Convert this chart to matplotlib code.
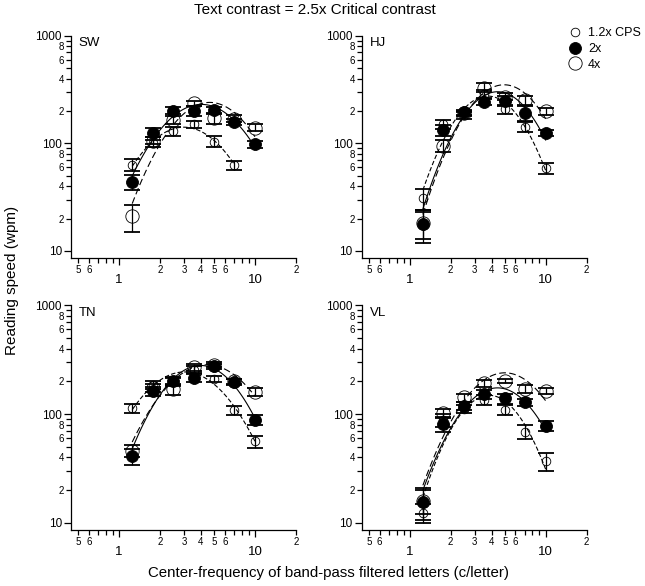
import numpy as np
import matplotlib
matplotlib.use('Agg')
import matplotlib.pyplot as plt
from matplotlib.ticker import FixedLocator, FuncFormatter
from matplotlib.lines import Line2D

plt.rcParams['font.family'] = ['Liberation Sans', 'DejaVu Sans']

# ---------------------------------------------------------------------------
# data read off the figure (reading speed in wpm, nan = not measured)
# ---------------------------------------------------------------------------

freq = [1.25, 1.77, 2.5, 3.54, 5.0, 7.07, 10.0]
subjects = ['SW', 'HJ', 'TN', 'VL']
series = ['1.2x CPS', '2x', '4x']

sw_12 = [63, 100, 130, 150, 104, 63, np.nan]
sw_2  = [44, 126, 201, 201, 203, 159, 98]
sw_4  = [21, 106, 165, 235, 171, 170, 140]
sw_12_err = [8, 8, 12, 10, 12, 6, np.nan]
sw_2_err  = [7, 12, 15, 20, 15, 10, 8]
sw_4_err  = [6, 8, 15, 15, 20, 12, 10]

hj_12 = [31, 150, 182, 290, 208, 142, 59]
hj_2  = [17.8, 133, 194, 244, 249, 193, 126]
hj_4  = [18, 95, 190, 330, 271, 253, 200]
hj_12_err = [7, 15, 12, 25, 20, 15, 7]
hj_2_err  = [6, 15, 12, 15, 25, 30, 8]
hj_4_err  = [5, 12, 10, 30, 20, 25, 15]

tn_12 = [113, 185, 200, 255, 210, 109, 56]
tn_2  = [41, 163, 201, 216, 276, 198, 89]
tn_4  = [46, 175, 170, 268, 285, 200, 160]
tn_12_err = [10, 15, 15, 20, 15, 10, 7]
tn_2_err  = [7, 15, 20, 20, 15, 12, 10]
tn_4_err  = [6, 15, 20, 20, 15, 12, 12]

vl_12 = [12.4, 88, 112, 136, 110, 69, 37]
vl_2  = [15.7, 81, 118, 152, 139, 128, 78]
vl_4  = [16, 102, 142, 191, 202, 170, 163]
vl_12_err = [2.5, 12, 10, 15, 12, 10, 7]
vl_2_err  = [5, 12, 10, 15, 15, 10, 8]
vl_4_err  = [4, 10, 12, 15, 10, 15, 10]

speeds = {'SW': [sw_12, sw_2, sw_4], 'HJ': [hj_12, hj_2, hj_4],
          'TN': [tn_12, tn_2, tn_4], 'VL': [vl_12, vl_2, vl_4]}
errors = {'SW': [sw_12_err, sw_2_err, sw_4_err], 'HJ': [hj_12_err, hj_2_err, hj_4_err],
          'TN': [tn_12_err, tn_2_err, tn_4_err], 'VL': [vl_12_err, vl_2_err, vl_4_err]}

# ---------------------------------------------------------------------------
# styles
# ---------------------------------------------------------------------------

mstyle = [dict(marker='o', ms=6.2, mfc='none', mec='black', mew=0.6),
          dict(marker='o', ms=8.6, mfc='black', mec='black', mew=0.6),
          dict(marker='o', ms=9.6, mfc='none', mec='black', mew=0.6)]
lstyle = [(0, (4, 2)), '-', (0, (6, 3))]
zord = [3, 5, 4]

x_minor = [0.5, 0.6, 0.7, 0.8, 0.9, 2, 3, 4, 5, 6, 7, 8, 9, 20]
x_minor_lab = {0.5: '5', 0.6: '6', 2: '2', 3: '3', 4: '4', 5: '5', 6: '6', 20: '2'}
y_minor = [20, 30, 40, 50, 60, 70, 80, 90, 200, 300, 400, 500, 600, 700, 800, 900]
y_minor_lab = {20: '2', 40: '4', 60: '6', 80: '8', 200: '2', 400: '4', 600: '6', 800: '8'}


def lab_fmt(d):
    def f(v, pos):
        for k, s in d.items():
            if abs(v - k) < 1e-6 * k:
                return s
        return ''
    return FuncFormatter(f)


W, H = 645, 586
fig = plt.figure(figsize=(W / 100, H / 100), dpi=100)

left_px = [71, 361.7]
top_rows = [(35.5, 258), (305, 530)]
ax_w = 225

for i, subj in enumerate(subjects):
    r, c = divmod(i, 2)
    t, b = top_rows[r]
    ax = fig.add_axes([left_px[c] / W, 1 - b / H, ax_w / W, (b - t) / H])
    ax.set_xscale('log')
    ax.set_yscale('log')

    x = np.array(freq)
    for k in range(3):
        y = np.array(speeds[subj][k], dtype=float)
        e = np.array(errors[subj][k], dtype=float)
        ok = np.isfinite(y)
        # log-parabola fit of the data
        p = np.polyfit(np.log10(x[ok]), np.log10(y[ok]), 2)
        xf = np.logspace(np.log10(x[ok][0]), np.log10(x[ok][-1]), 120)
        ax.plot(xf, 10 ** np.polyval(p, np.log10(xf)), color='black',
                lw=0.8, ls=lstyle[k], zorder=2)
        ax.errorbar(x[ok], y[ok], yerr=e[ok], fmt='none', ecolor='black',
                    elinewidth=0.9, capsize=5.8, capthick=1.3, zorder=zord[k])
        ax.plot(x[ok], y[ok], ls='none', zorder=zord[k] + 0.5, **mstyle[k])

    ax.set_xlim(0.443, 20.05)
    ax.set_ylim(8.6, 1005)
    ax.spines['top'].set_visible(False)
    ax.spines['right'].set_visible(False)
    for s in ['left', 'bottom']:
        ax.spines[s].set_linewidth(0.9)

    ax.xaxis.set_major_locator(FixedLocator([1, 10]))
    ax.xaxis.set_minor_locator(FixedLocator(x_minor))
    ax.xaxis.set_major_formatter(FuncFormatter(lambda v, p: '%g' % v))
    ax.xaxis.set_minor_formatter(lab_fmt(x_minor_lab))
    ax.yaxis.set_major_locator(FixedLocator([10, 100, 1000]))
    ax.yaxis.set_minor_locator(FixedLocator(y_minor))
    ax.yaxis.set_major_formatter(FuncFormatter(lambda v, p: '%g' % v))
    ax.yaxis.set_minor_formatter(lab_fmt(y_minor_lab))

    ax.tick_params(axis='x', which='major', length=5, width=0.9, pad=6.5, labelsize=9.5)
    ax.tick_params(axis='x', which='minor', length=3.5, width=0.9, pad=1.5, labelsize=7)
    ax.tick_params(axis='y', which='major', length=5, width=0.9, pad=1.5, labelsize=8.5)
    ax.tick_params(axis='y', which='minor', length=3.5, width=0.9, pad=1.5, labelsize=7)

    ax.text(0.035, 0.966, subj, transform=ax.transAxes, va='center', ha='left',
            fontsize=9.5)

handles = [Line2D([], [], ls='none', **mstyle[k]) for k in range(3)]
fig.legend(handles, series, loc='upper left', bbox_to_anchor=(568.5 / W, 1 - 27.5 / H),
           frameon=False, fontsize=9, handlelength=1.0, handletextpad=0.55,
           labelspacing=0.28, borderaxespad=0, borderpad=0)

fig.text(315 / W, 1 - 10 / H, 'Text contrast = 2.5x Critical contrast',
         ha='center', va='center', fontsize=11)
fig.text(328 / W, 1 - 573 / H,
         'Center-frequency of band-pass filtered letters (c/letter)',
         ha='center', va='center', fontsize=10.8)
fig.text(12 / W, 1 - 280 / H, 'Reading speed (wpm)', rotation=90,
         ha='center', va='center', fontsize=11)

fig.savefig('out.png', dpi=100)
